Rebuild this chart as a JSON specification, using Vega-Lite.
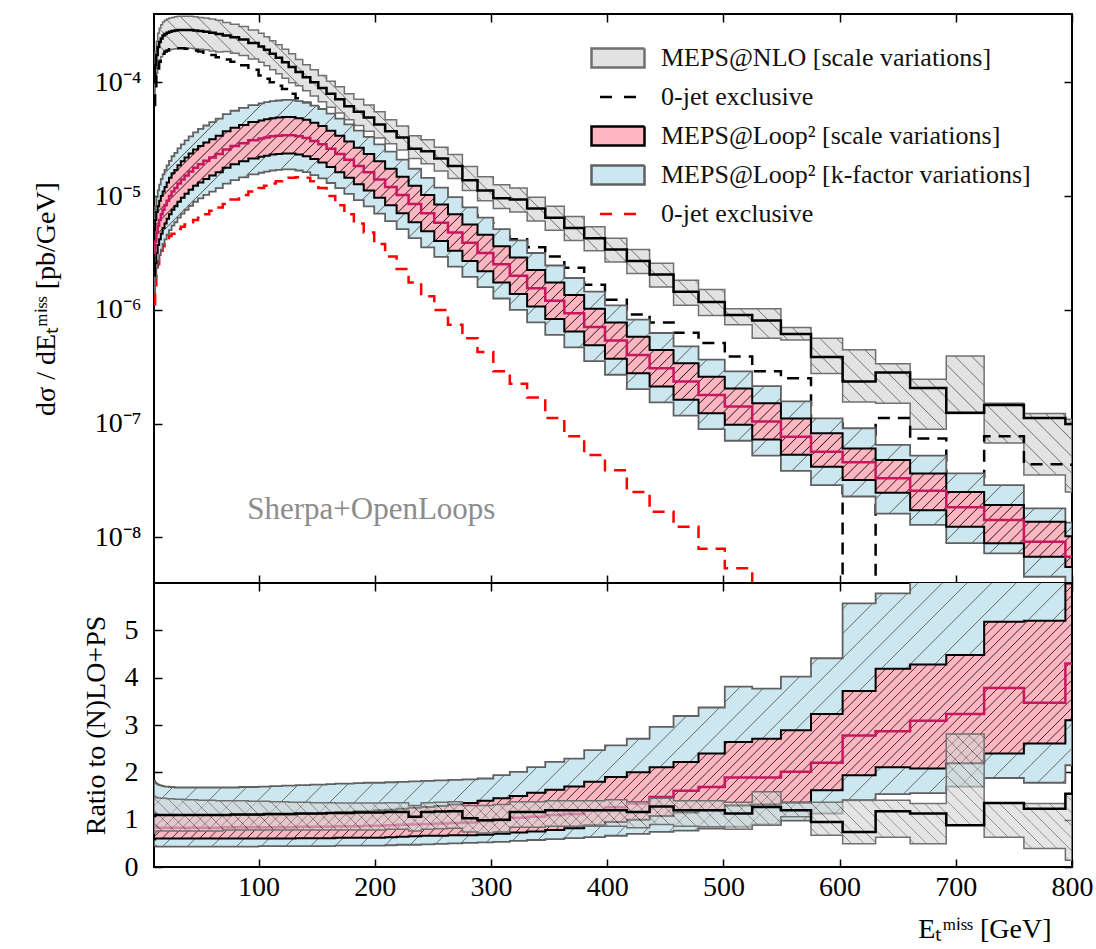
{
  "$schema": "https://vega.github.io/schema/vega-lite/v6.json",
  "background": "white",
  "padding": {"left": 31, "top": 12, "right": 25, "bottom": 6},
  "bounds": "flush",
  "params": [
    {"name": "ps", "value": [
{"offset":0.0072,"color":"#ffb6c1"},{"offset":0.008,"color":"#222"},{"offset":0.0088,"color":"#ffb6c1"},
{"offset":0.0152,"color":"#ffb6c1"},{"offset":0.016,"color":"#222"},{"offset":0.0168,"color":"#ffb6c1"},
{"offset":0.0232,"color":"#ffb6c1"},{"offset":0.024,"color":"#222"},{"offset":0.0248,"color":"#ffb6c1"},
{"offset":0.0312,"color":"#ffb6c1"},{"offset":0.032,"color":"#222"},{"offset":0.0328,"color":"#ffb6c1"},
{"offset":0.0392,"color":"#ffb6c1"},{"offset":0.04,"color":"#222"},{"offset":0.0408,"color":"#ffb6c1"},
{"offset":0.0472,"color":"#ffb6c1"},{"offset":0.048,"color":"#222"},{"offset":0.0488,"color":"#ffb6c1"},
{"offset":0.0552,"color":"#ffb6c1"},{"offset":0.056,"color":"#222"},{"offset":0.0568,"color":"#ffb6c1"},
{"offset":0.0632,"color":"#ffb6c1"},{"offset":0.064,"color":"#222"},{"offset":0.0648,"color":"#ffb6c1"},
{"offset":0.0712,"color":"#ffb6c1"},{"offset":0.072,"color":"#222"},{"offset":0.0728,"color":"#ffb6c1"},
{"offset":0.0792,"color":"#ffb6c1"},{"offset":0.08,"color":"#222"},{"offset":0.0808,"color":"#ffb6c1"},
{"offset":0.0872,"color":"#ffb6c1"},{"offset":0.088,"color":"#222"},{"offset":0.0888,"color":"#ffb6c1"},
{"offset":0.0952,"color":"#ffb6c1"},{"offset":0.096,"color":"#222"},{"offset":0.0968,"color":"#ffb6c1"},
{"offset":0.1032,"color":"#ffb6c1"},{"offset":0.104,"color":"#222"},{"offset":0.1048,"color":"#ffb6c1"},
{"offset":0.1112,"color":"#ffb6c1"},{"offset":0.112,"color":"#222"},{"offset":0.1128,"color":"#ffb6c1"},
{"offset":0.1192,"color":"#ffb6c1"},{"offset":0.12,"color":"#222"},{"offset":0.1208,"color":"#ffb6c1"},
{"offset":0.1272,"color":"#ffb6c1"},{"offset":0.128,"color":"#222"},{"offset":0.1288,"color":"#ffb6c1"},
{"offset":0.1352,"color":"#ffb6c1"},{"offset":0.136,"color":"#222"},{"offset":0.1368,"color":"#ffb6c1"},
{"offset":0.1432,"color":"#ffb6c1"},{"offset":0.144,"color":"#222"},{"offset":0.1448,"color":"#ffb6c1"},
{"offset":0.1512,"color":"#ffb6c1"},{"offset":0.152,"color":"#222"},{"offset":0.1528,"color":"#ffb6c1"},
{"offset":0.1592,"color":"#ffb6c1"},{"offset":0.16,"color":"#222"},{"offset":0.1608,"color":"#ffb6c1"},
{"offset":0.1672,"color":"#ffb6c1"},{"offset":0.168,"color":"#222"},{"offset":0.1688,"color":"#ffb6c1"},
{"offset":0.1752,"color":"#ffb6c1"},{"offset":0.176,"color":"#222"},{"offset":0.1768,"color":"#ffb6c1"},
{"offset":0.1832,"color":"#ffb6c1"},{"offset":0.184,"color":"#222"},{"offset":0.1848,"color":"#ffb6c1"},
{"offset":0.1912,"color":"#ffb6c1"},{"offset":0.192,"color":"#222"},{"offset":0.1928,"color":"#ffb6c1"},
{"offset":0.1992,"color":"#ffb6c1"},{"offset":0.2,"color":"#222"},{"offset":0.2008,"color":"#ffb6c1"},
{"offset":0.2072,"color":"#ffb6c1"},{"offset":0.208,"color":"#222"},{"offset":0.2088,"color":"#ffb6c1"},
{"offset":0.2152,"color":"#ffb6c1"},{"offset":0.216,"color":"#222"},{"offset":0.2168,"color":"#ffb6c1"},
{"offset":0.2232,"color":"#ffb6c1"},{"offset":0.224,"color":"#222"},{"offset":0.2248,"color":"#ffb6c1"},
{"offset":0.2312,"color":"#ffb6c1"},{"offset":0.232,"color":"#222"},{"offset":0.2328,"color":"#ffb6c1"},
{"offset":0.2392,"color":"#ffb6c1"},{"offset":0.24,"color":"#222"},{"offset":0.2408,"color":"#ffb6c1"},
{"offset":0.2472,"color":"#ffb6c1"},{"offset":0.248,"color":"#222"},{"offset":0.2488,"color":"#ffb6c1"},
{"offset":0.2552,"color":"#ffb6c1"},{"offset":0.256,"color":"#222"},{"offset":0.2568,"color":"#ffb6c1"},
{"offset":0.2632,"color":"#ffb6c1"},{"offset":0.264,"color":"#222"},{"offset":0.2648,"color":"#ffb6c1"},
{"offset":0.2712,"color":"#ffb6c1"},{"offset":0.272,"color":"#222"},{"offset":0.2728,"color":"#ffb6c1"},
{"offset":0.2792,"color":"#ffb6c1"},{"offset":0.28,"color":"#222"},{"offset":0.2808,"color":"#ffb6c1"},
{"offset":0.2872,"color":"#ffb6c1"},{"offset":0.288,"color":"#222"},{"offset":0.2888,"color":"#ffb6c1"},
{"offset":0.2952,"color":"#ffb6c1"},{"offset":0.296,"color":"#222"},{"offset":0.2968,"color":"#ffb6c1"},
{"offset":0.3032,"color":"#ffb6c1"},{"offset":0.304,"color":"#222"},{"offset":0.3048,"color":"#ffb6c1"},
{"offset":0.3112,"color":"#ffb6c1"},{"offset":0.312,"color":"#222"},{"offset":0.3128,"color":"#ffb6c1"},
{"offset":0.3192,"color":"#ffb6c1"},{"offset":0.32,"color":"#222"},{"offset":0.3208,"color":"#ffb6c1"},
{"offset":0.3272,"color":"#ffb6c1"},{"offset":0.328,"color":"#222"},{"offset":0.3288,"color":"#ffb6c1"},
{"offset":0.3352,"color":"#ffb6c1"},{"offset":0.336,"color":"#222"},{"offset":0.3368,"color":"#ffb6c1"},
{"offset":0.3432,"color":"#ffb6c1"},{"offset":0.344,"color":"#222"},{"offset":0.3448,"color":"#ffb6c1"},
{"offset":0.3512,"color":"#ffb6c1"},{"offset":0.352,"color":"#222"},{"offset":0.3528,"color":"#ffb6c1"},
{"offset":0.3592,"color":"#ffb6c1"},{"offset":0.36,"color":"#222"},{"offset":0.3608,"color":"#ffb6c1"},
{"offset":0.3672,"color":"#ffb6c1"},{"offset":0.368,"color":"#222"},{"offset":0.3688,"color":"#ffb6c1"},
{"offset":0.3752,"color":"#ffb6c1"},{"offset":0.376,"color":"#222"},{"offset":0.3768,"color":"#ffb6c1"},
{"offset":0.3832,"color":"#ffb6c1"},{"offset":0.384,"color":"#222"},{"offset":0.3848,"color":"#ffb6c1"},
{"offset":0.3912,"color":"#ffb6c1"},{"offset":0.392,"color":"#222"},{"offset":0.3928,"color":"#ffb6c1"},
{"offset":0.3992,"color":"#ffb6c1"},{"offset":0.4,"color":"#222"},{"offset":0.4008,"color":"#ffb6c1"},
{"offset":0.4072,"color":"#ffb6c1"},{"offset":0.408,"color":"#222"},{"offset":0.4088,"color":"#ffb6c1"},
{"offset":0.4152,"color":"#ffb6c1"},{"offset":0.416,"color":"#222"},{"offset":0.4168,"color":"#ffb6c1"},
{"offset":0.4232,"color":"#ffb6c1"},{"offset":0.424,"color":"#222"},{"offset":0.4248,"color":"#ffb6c1"},
{"offset":0.4312,"color":"#ffb6c1"},{"offset":0.432,"color":"#222"},{"offset":0.4328,"color":"#ffb6c1"},
{"offset":0.4392,"color":"#ffb6c1"},{"offset":0.44,"color":"#222"},{"offset":0.4408,"color":"#ffb6c1"},
{"offset":0.4472,"color":"#ffb6c1"},{"offset":0.448,"color":"#222"},{"offset":0.4488,"color":"#ffb6c1"},
{"offset":0.4552,"color":"#ffb6c1"},{"offset":0.456,"color":"#222"},{"offset":0.4568,"color":"#ffb6c1"},
{"offset":0.4632,"color":"#ffb6c1"},{"offset":0.464,"color":"#222"},{"offset":0.4648,"color":"#ffb6c1"},
{"offset":0.4712,"color":"#ffb6c1"},{"offset":0.472,"color":"#222"},{"offset":0.4728,"color":"#ffb6c1"},
{"offset":0.4792,"color":"#ffb6c1"},{"offset":0.48,"color":"#222"},{"offset":0.4808,"color":"#ffb6c1"},
{"offset":0.4872,"color":"#ffb6c1"},{"offset":0.488,"color":"#222"},{"offset":0.4888,"color":"#ffb6c1"},
{"offset":0.4952,"color":"#ffb6c1"},{"offset":0.496,"color":"#222"},{"offset":0.4968,"color":"#ffb6c1"},
{"offset":0.5032,"color":"#ffb6c1"},{"offset":0.504,"color":"#222"},{"offset":0.5048,"color":"#ffb6c1"},
{"offset":0.5112,"color":"#ffb6c1"},{"offset":0.512,"color":"#222"},{"offset":0.5128,"color":"#ffb6c1"},
{"offset":0.5192,"color":"#ffb6c1"},{"offset":0.52,"color":"#222"},{"offset":0.5208,"color":"#ffb6c1"},
{"offset":0.5272,"color":"#ffb6c1"},{"offset":0.528,"color":"#222"},{"offset":0.5288,"color":"#ffb6c1"},
{"offset":0.5352,"color":"#ffb6c1"},{"offset":0.536,"color":"#222"},{"offset":0.5368,"color":"#ffb6c1"},
{"offset":0.5432,"color":"#ffb6c1"},{"offset":0.544,"color":"#222"},{"offset":0.5448,"color":"#ffb6c1"},
{"offset":0.5512,"color":"#ffb6c1"},{"offset":0.552,"color":"#222"},{"offset":0.5528,"color":"#ffb6c1"},
{"offset":0.5592,"color":"#ffb6c1"},{"offset":0.56,"color":"#222"},{"offset":0.5608,"color":"#ffb6c1"},
{"offset":0.5672,"color":"#ffb6c1"},{"offset":0.568,"color":"#222"},{"offset":0.5688,"color":"#ffb6c1"},
{"offset":0.5752,"color":"#ffb6c1"},{"offset":0.576,"color":"#222"},{"offset":0.5768,"color":"#ffb6c1"},
{"offset":0.5832,"color":"#ffb6c1"},{"offset":0.584,"color":"#222"},{"offset":0.5848,"color":"#ffb6c1"},
{"offset":0.5912,"color":"#ffb6c1"},{"offset":0.592,"color":"#222"},{"offset":0.5928,"color":"#ffb6c1"},
{"offset":0.5992,"color":"#ffb6c1"},{"offset":0.6,"color":"#222"},{"offset":0.6008,"color":"#ffb6c1"},
{"offset":0.6072,"color":"#ffb6c1"},{"offset":0.608,"color":"#222"},{"offset":0.6088,"color":"#ffb6c1"},
{"offset":0.6152,"color":"#ffb6c1"},{"offset":0.616,"color":"#222"},{"offset":0.6168,"color":"#ffb6c1"},
{"offset":0.6232,"color":"#ffb6c1"},{"offset":0.624,"color":"#222"},{"offset":0.6248,"color":"#ffb6c1"},
{"offset":0.6312,"color":"#ffb6c1"},{"offset":0.632,"color":"#222"},{"offset":0.6328,"color":"#ffb6c1"},
{"offset":0.6392,"color":"#ffb6c1"},{"offset":0.64,"color":"#222"},{"offset":0.6408,"color":"#ffb6c1"},
{"offset":0.6472,"color":"#ffb6c1"},{"offset":0.648,"color":"#222"},{"offset":0.6488,"color":"#ffb6c1"},
{"offset":0.6552,"color":"#ffb6c1"},{"offset":0.656,"color":"#222"},{"offset":0.6568,"color":"#ffb6c1"},
{"offset":0.6632,"color":"#ffb6c1"},{"offset":0.664,"color":"#222"},{"offset":0.6648,"color":"#ffb6c1"},
{"offset":0.6712,"color":"#ffb6c1"},{"offset":0.672,"color":"#222"},{"offset":0.6728,"color":"#ffb6c1"},
{"offset":0.6792,"color":"#ffb6c1"},{"offset":0.68,"color":"#222"},{"offset":0.6808,"color":"#ffb6c1"},
{"offset":0.6872,"color":"#ffb6c1"},{"offset":0.688,"color":"#222"},{"offset":0.6888,"color":"#ffb6c1"},
{"offset":0.6952,"color":"#ffb6c1"},{"offset":0.696,"color":"#222"},{"offset":0.6968,"color":"#ffb6c1"},
{"offset":0.7032,"color":"#ffb6c1"},{"offset":0.704,"color":"#222"},{"offset":0.7048,"color":"#ffb6c1"},
{"offset":0.7112,"color":"#ffb6c1"},{"offset":0.712,"color":"#222"},{"offset":0.7128,"color":"#ffb6c1"},
{"offset":0.7192,"color":"#ffb6c1"},{"offset":0.72,"color":"#222"},{"offset":0.7208,"color":"#ffb6c1"},
{"offset":0.7272,"color":"#ffb6c1"},{"offset":0.728,"color":"#222"},{"offset":0.7288,"color":"#ffb6c1"},
{"offset":0.7352,"color":"#ffb6c1"},{"offset":0.736,"color":"#222"},{"offset":0.7368,"color":"#ffb6c1"},
{"offset":0.7432,"color":"#ffb6c1"},{"offset":0.744,"color":"#222"},{"offset":0.7448,"color":"#ffb6c1"},
{"offset":0.7512,"color":"#ffb6c1"},{"offset":0.752,"color":"#222"},{"offset":0.7528,"color":"#ffb6c1"},
{"offset":0.7592,"color":"#ffb6c1"},{"offset":0.76,"color":"#222"},{"offset":0.7608,"color":"#ffb6c1"},
{"offset":0.7672,"color":"#ffb6c1"},{"offset":0.768,"color":"#222"},{"offset":0.7688,"color":"#ffb6c1"},
{"offset":0.7752,"color":"#ffb6c1"},{"offset":0.776,"color":"#222"},{"offset":0.7768,"color":"#ffb6c1"},
{"offset":0.7832,"color":"#ffb6c1"},{"offset":0.784,"color":"#222"},{"offset":0.7848,"color":"#ffb6c1"},
{"offset":0.7912,"color":"#ffb6c1"},{"offset":0.792,"color":"#222"},{"offset":0.7928,"color":"#ffb6c1"},
{"offset":0.7992,"color":"#ffb6c1"},{"offset":0.8,"color":"#222"},{"offset":0.8008,"color":"#ffb6c1"},
{"offset":0.8072,"color":"#ffb6c1"},{"offset":0.808,"color":"#222"},{"offset":0.8088,"color":"#ffb6c1"},
{"offset":0.8152,"color":"#ffb6c1"},{"offset":0.816,"color":"#222"},{"offset":0.8168,"color":"#ffb6c1"},
{"offset":0.8232,"color":"#ffb6c1"},{"offset":0.824,"color":"#222"},{"offset":0.8248,"color":"#ffb6c1"},
{"offset":0.8312,"color":"#ffb6c1"},{"offset":0.832,"color":"#222"},{"offset":0.8328,"color":"#ffb6c1"},
{"offset":0.8392,"color":"#ffb6c1"},{"offset":0.84,"color":"#222"},{"offset":0.8408,"color":"#ffb6c1"},
{"offset":0.8472,"color":"#ffb6c1"},{"offset":0.848,"color":"#222"},{"offset":0.8488,"color":"#ffb6c1"},
{"offset":0.8552,"color":"#ffb6c1"},{"offset":0.856,"color":"#222"},{"offset":0.8568,"color":"#ffb6c1"},
{"offset":0.8632,"color":"#ffb6c1"},{"offset":0.864,"color":"#222"},{"offset":0.8648,"color":"#ffb6c1"},
{"offset":0.8712,"color":"#ffb6c1"},{"offset":0.872,"color":"#222"},{"offset":0.8728,"color":"#ffb6c1"},
{"offset":0.8792,"color":"#ffb6c1"},{"offset":0.88,"color":"#222"},{"offset":0.8808,"color":"#ffb6c1"},
{"offset":0.8872,"color":"#ffb6c1"},{"offset":0.888,"color":"#222"},{"offset":0.8888,"color":"#ffb6c1"},
{"offset":0.8952,"color":"#ffb6c1"},{"offset":0.896,"color":"#222"},{"offset":0.8968,"color":"#ffb6c1"},
{"offset":0.9032,"color":"#ffb6c1"},{"offset":0.904,"color":"#222"},{"offset":0.9048,"color":"#ffb6c1"},
{"offset":0.9112,"color":"#ffb6c1"},{"offset":0.912,"color":"#222"},{"offset":0.9128,"color":"#ffb6c1"},
{"offset":0.9192,"color":"#ffb6c1"},{"offset":0.92,"color":"#222"},{"offset":0.9208,"color":"#ffb6c1"},
{"offset":0.9272,"color":"#ffb6c1"},{"offset":0.928,"color":"#222"},{"offset":0.9288,"color":"#ffb6c1"},
{"offset":0.9352,"color":"#ffb6c1"},{"offset":0.936,"color":"#222"},{"offset":0.9368,"color":"#ffb6c1"},
{"offset":0.9432,"color":"#ffb6c1"},{"offset":0.944,"color":"#222"},{"offset":0.9448,"color":"#ffb6c1"},
{"offset":0.9512,"color":"#ffb6c1"},{"offset":0.952,"color":"#222"},{"offset":0.9528,"color":"#ffb6c1"},
{"offset":0.9592,"color":"#ffb6c1"},{"offset":0.96,"color":"#222"},{"offset":0.9608,"color":"#ffb6c1"},
{"offset":0.9672,"color":"#ffb6c1"},{"offset":0.968,"color":"#222"},{"offset":0.9688,"color":"#ffb6c1"},
{"offset":0.9752,"color":"#ffb6c1"},{"offset":0.976,"color":"#222"},{"offset":0.9768,"color":"#ffb6c1"},
{"offset":0.9832,"color":"#ffb6c1"},{"offset":0.984,"color":"#222"},{"offset":0.9848,"color":"#ffb6c1"},
{"offset":0.9912,"color":"#ffb6c1"},{"offset":0.992,"color":"#222"},{"offset":0.9928,"color":"#ffb6c1"}
    ]},
    {"name": "bs", "value": [
{"offset":0.0192,"color":"#cde7f0"},{"offset":0.02,"color":"#666"},{"offset":0.0208,"color":"#cde7f0"},
{"offset":0.0392,"color":"#cde7f0"},{"offset":0.04,"color":"#666"},{"offset":0.0408,"color":"#cde7f0"},
{"offset":0.0592,"color":"#cde7f0"},{"offset":0.06,"color":"#666"},{"offset":0.0608,"color":"#cde7f0"},
{"offset":0.0792,"color":"#cde7f0"},{"offset":0.08,"color":"#666"},{"offset":0.0808,"color":"#cde7f0"},
{"offset":0.0992,"color":"#cde7f0"},{"offset":0.1,"color":"#666"},{"offset":0.1008,"color":"#cde7f0"},
{"offset":0.1192,"color":"#cde7f0"},{"offset":0.12,"color":"#666"},{"offset":0.1208,"color":"#cde7f0"},
{"offset":0.1392,"color":"#cde7f0"},{"offset":0.14,"color":"#666"},{"offset":0.1408,"color":"#cde7f0"},
{"offset":0.1592,"color":"#cde7f0"},{"offset":0.16,"color":"#666"},{"offset":0.1608,"color":"#cde7f0"},
{"offset":0.1792,"color":"#cde7f0"},{"offset":0.18,"color":"#666"},{"offset":0.1808,"color":"#cde7f0"},
{"offset":0.1992,"color":"#cde7f0"},{"offset":0.2,"color":"#666"},{"offset":0.2008,"color":"#cde7f0"},
{"offset":0.2192,"color":"#cde7f0"},{"offset":0.22,"color":"#666"},{"offset":0.2208,"color":"#cde7f0"},
{"offset":0.2392,"color":"#cde7f0"},{"offset":0.24,"color":"#666"},{"offset":0.2408,"color":"#cde7f0"},
{"offset":0.2592,"color":"#cde7f0"},{"offset":0.26,"color":"#666"},{"offset":0.2608,"color":"#cde7f0"},
{"offset":0.2792,"color":"#cde7f0"},{"offset":0.28,"color":"#666"},{"offset":0.2808,"color":"#cde7f0"},
{"offset":0.2992,"color":"#cde7f0"},{"offset":0.3,"color":"#666"},{"offset":0.3008,"color":"#cde7f0"},
{"offset":0.3192,"color":"#cde7f0"},{"offset":0.32,"color":"#666"},{"offset":0.3208,"color":"#cde7f0"},
{"offset":0.3392,"color":"#cde7f0"},{"offset":0.34,"color":"#666"},{"offset":0.3408,"color":"#cde7f0"},
{"offset":0.3592,"color":"#cde7f0"},{"offset":0.36,"color":"#666"},{"offset":0.3608,"color":"#cde7f0"},
{"offset":0.3792,"color":"#cde7f0"},{"offset":0.38,"color":"#666"},{"offset":0.3808,"color":"#cde7f0"},
{"offset":0.3992,"color":"#cde7f0"},{"offset":0.4,"color":"#666"},{"offset":0.4008,"color":"#cde7f0"},
{"offset":0.4192,"color":"#cde7f0"},{"offset":0.42,"color":"#666"},{"offset":0.4208,"color":"#cde7f0"},
{"offset":0.4392,"color":"#cde7f0"},{"offset":0.44,"color":"#666"},{"offset":0.4408,"color":"#cde7f0"},
{"offset":0.4592,"color":"#cde7f0"},{"offset":0.46,"color":"#666"},{"offset":0.4608,"color":"#cde7f0"},
{"offset":0.4792,"color":"#cde7f0"},{"offset":0.48,"color":"#666"},{"offset":0.4808,"color":"#cde7f0"},
{"offset":0.4992,"color":"#cde7f0"},{"offset":0.5,"color":"#666"},{"offset":0.5008,"color":"#cde7f0"},
{"offset":0.5192,"color":"#cde7f0"},{"offset":0.52,"color":"#666"},{"offset":0.5208,"color":"#cde7f0"},
{"offset":0.5392,"color":"#cde7f0"},{"offset":0.54,"color":"#666"},{"offset":0.5408,"color":"#cde7f0"},
{"offset":0.5592,"color":"#cde7f0"},{"offset":0.56,"color":"#666"},{"offset":0.5608,"color":"#cde7f0"},
{"offset":0.5792,"color":"#cde7f0"},{"offset":0.58,"color":"#666"},{"offset":0.5808,"color":"#cde7f0"},
{"offset":0.5992,"color":"#cde7f0"},{"offset":0.6,"color":"#666"},{"offset":0.6008,"color":"#cde7f0"},
{"offset":0.6192,"color":"#cde7f0"},{"offset":0.62,"color":"#666"},{"offset":0.6208,"color":"#cde7f0"},
{"offset":0.6392,"color":"#cde7f0"},{"offset":0.64,"color":"#666"},{"offset":0.6408,"color":"#cde7f0"},
{"offset":0.6592,"color":"#cde7f0"},{"offset":0.66,"color":"#666"},{"offset":0.6608,"color":"#cde7f0"},
{"offset":0.6792,"color":"#cde7f0"},{"offset":0.68,"color":"#666"},{"offset":0.6808,"color":"#cde7f0"},
{"offset":0.6992,"color":"#cde7f0"},{"offset":0.7,"color":"#666"},{"offset":0.7008,"color":"#cde7f0"},
{"offset":0.7192,"color":"#cde7f0"},{"offset":0.72,"color":"#666"},{"offset":0.7208,"color":"#cde7f0"},
{"offset":0.7392,"color":"#cde7f0"},{"offset":0.74,"color":"#666"},{"offset":0.7408,"color":"#cde7f0"},
{"offset":0.7592,"color":"#cde7f0"},{"offset":0.76,"color":"#666"},{"offset":0.7608,"color":"#cde7f0"},
{"offset":0.7792,"color":"#cde7f0"},{"offset":0.78,"color":"#666"},{"offset":0.7808,"color":"#cde7f0"},
{"offset":0.7992,"color":"#cde7f0"},{"offset":0.8,"color":"#666"},{"offset":0.8008,"color":"#cde7f0"},
{"offset":0.8192,"color":"#cde7f0"},{"offset":0.82,"color":"#666"},{"offset":0.8208,"color":"#cde7f0"},
{"offset":0.8392,"color":"#cde7f0"},{"offset":0.84,"color":"#666"},{"offset":0.8408,"color":"#cde7f0"},
{"offset":0.8592,"color":"#cde7f0"},{"offset":0.86,"color":"#666"},{"offset":0.8608,"color":"#cde7f0"},
{"offset":0.8792,"color":"#cde7f0"},{"offset":0.88,"color":"#666"},{"offset":0.8808,"color":"#cde7f0"},
{"offset":0.8992,"color":"#cde7f0"},{"offset":0.9,"color":"#666"},{"offset":0.9008,"color":"#cde7f0"},
{"offset":0.9192,"color":"#cde7f0"},{"offset":0.92,"color":"#666"},{"offset":0.9208,"color":"#cde7f0"},
{"offset":0.9392,"color":"#cde7f0"},{"offset":0.94,"color":"#666"},{"offset":0.9408,"color":"#cde7f0"},
{"offset":0.9592,"color":"#cde7f0"},{"offset":0.96,"color":"#666"},{"offset":0.9608,"color":"#cde7f0"},
{"offset":0.9792,"color":"#cde7f0"},{"offset":0.98,"color":"#666"},{"offset":0.9808,"color":"#cde7f0"}
    ]},
    {"name": "gs", "value": [
{"offset":0.0112,"color":"#d3d3d3"},{"offset":0.012,"color":"#333"},{"offset":0.0128,"color":"#d3d3d3"},
{"offset":0.0232,"color":"#d3d3d3"},{"offset":0.024,"color":"#333"},{"offset":0.0248,"color":"#d3d3d3"},
{"offset":0.0352,"color":"#d3d3d3"},{"offset":0.036,"color":"#333"},{"offset":0.0368,"color":"#d3d3d3"},
{"offset":0.0472,"color":"#d3d3d3"},{"offset":0.048,"color":"#333"},{"offset":0.0488,"color":"#d3d3d3"},
{"offset":0.0592,"color":"#d3d3d3"},{"offset":0.06,"color":"#333"},{"offset":0.0608,"color":"#d3d3d3"},
{"offset":0.0712,"color":"#d3d3d3"},{"offset":0.072,"color":"#333"},{"offset":0.0728,"color":"#d3d3d3"},
{"offset":0.0832,"color":"#d3d3d3"},{"offset":0.084,"color":"#333"},{"offset":0.0848,"color":"#d3d3d3"},
{"offset":0.0952,"color":"#d3d3d3"},{"offset":0.096,"color":"#333"},{"offset":0.0968,"color":"#d3d3d3"},
{"offset":0.1072,"color":"#d3d3d3"},{"offset":0.108,"color":"#333"},{"offset":0.1088,"color":"#d3d3d3"},
{"offset":0.1192,"color":"#d3d3d3"},{"offset":0.12,"color":"#333"},{"offset":0.1208,"color":"#d3d3d3"},
{"offset":0.1312,"color":"#d3d3d3"},{"offset":0.132,"color":"#333"},{"offset":0.1328,"color":"#d3d3d3"},
{"offset":0.1432,"color":"#d3d3d3"},{"offset":0.144,"color":"#333"},{"offset":0.1448,"color":"#d3d3d3"},
{"offset":0.1552,"color":"#d3d3d3"},{"offset":0.156,"color":"#333"},{"offset":0.1568,"color":"#d3d3d3"},
{"offset":0.1672,"color":"#d3d3d3"},{"offset":0.168,"color":"#333"},{"offset":0.1688,"color":"#d3d3d3"},
{"offset":0.1792,"color":"#d3d3d3"},{"offset":0.18,"color":"#333"},{"offset":0.1808,"color":"#d3d3d3"},
{"offset":0.1912,"color":"#d3d3d3"},{"offset":0.192,"color":"#333"},{"offset":0.1928,"color":"#d3d3d3"},
{"offset":0.2032,"color":"#d3d3d3"},{"offset":0.204,"color":"#333"},{"offset":0.2048,"color":"#d3d3d3"},
{"offset":0.2152,"color":"#d3d3d3"},{"offset":0.216,"color":"#333"},{"offset":0.2168,"color":"#d3d3d3"},
{"offset":0.2272,"color":"#d3d3d3"},{"offset":0.228,"color":"#333"},{"offset":0.2288,"color":"#d3d3d3"},
{"offset":0.2392,"color":"#d3d3d3"},{"offset":0.24,"color":"#333"},{"offset":0.2408,"color":"#d3d3d3"},
{"offset":0.2512,"color":"#d3d3d3"},{"offset":0.252,"color":"#333"},{"offset":0.2528,"color":"#d3d3d3"},
{"offset":0.2632,"color":"#d3d3d3"},{"offset":0.264,"color":"#333"},{"offset":0.2648,"color":"#d3d3d3"},
{"offset":0.2752,"color":"#d3d3d3"},{"offset":0.276,"color":"#333"},{"offset":0.2768,"color":"#d3d3d3"},
{"offset":0.2872,"color":"#d3d3d3"},{"offset":0.288,"color":"#333"},{"offset":0.2888,"color":"#d3d3d3"},
{"offset":0.2992,"color":"#d3d3d3"},{"offset":0.3,"color":"#333"},{"offset":0.3008,"color":"#d3d3d3"},
{"offset":0.3112,"color":"#d3d3d3"},{"offset":0.312,"color":"#333"},{"offset":0.3128,"color":"#d3d3d3"},
{"offset":0.3232,"color":"#d3d3d3"},{"offset":0.324,"color":"#333"},{"offset":0.3248,"color":"#d3d3d3"},
{"offset":0.3352,"color":"#d3d3d3"},{"offset":0.336,"color":"#333"},{"offset":0.3368,"color":"#d3d3d3"},
{"offset":0.3472,"color":"#d3d3d3"},{"offset":0.348,"color":"#333"},{"offset":0.3488,"color":"#d3d3d3"},
{"offset":0.3592,"color":"#d3d3d3"},{"offset":0.36,"color":"#333"},{"offset":0.3608,"color":"#d3d3d3"},
{"offset":0.3712,"color":"#d3d3d3"},{"offset":0.372,"color":"#333"},{"offset":0.3728,"color":"#d3d3d3"},
{"offset":0.3832,"color":"#d3d3d3"},{"offset":0.384,"color":"#333"},{"offset":0.3848,"color":"#d3d3d3"},
{"offset":0.3952,"color":"#d3d3d3"},{"offset":0.396,"color":"#333"},{"offset":0.3968,"color":"#d3d3d3"},
{"offset":0.4072,"color":"#d3d3d3"},{"offset":0.408,"color":"#333"},{"offset":0.4088,"color":"#d3d3d3"},
{"offset":0.4192,"color":"#d3d3d3"},{"offset":0.42,"color":"#333"},{"offset":0.4208,"color":"#d3d3d3"},
{"offset":0.4312,"color":"#d3d3d3"},{"offset":0.432,"color":"#333"},{"offset":0.4328,"color":"#d3d3d3"},
{"offset":0.4432,"color":"#d3d3d3"},{"offset":0.444,"color":"#333"},{"offset":0.4448,"color":"#d3d3d3"},
{"offset":0.4552,"color":"#d3d3d3"},{"offset":0.456,"color":"#333"},{"offset":0.4568,"color":"#d3d3d3"},
{"offset":0.4672,"color":"#d3d3d3"},{"offset":0.468,"color":"#333"},{"offset":0.4688,"color":"#d3d3d3"},
{"offset":0.4792,"color":"#d3d3d3"},{"offset":0.48,"color":"#333"},{"offset":0.4808,"color":"#d3d3d3"},
{"offset":0.4912,"color":"#d3d3d3"},{"offset":0.492,"color":"#333"},{"offset":0.4928,"color":"#d3d3d3"},
{"offset":0.5032,"color":"#d3d3d3"},{"offset":0.504,"color":"#333"},{"offset":0.5048,"color":"#d3d3d3"},
{"offset":0.5152,"color":"#d3d3d3"},{"offset":0.516,"color":"#333"},{"offset":0.5168,"color":"#d3d3d3"},
{"offset":0.5272,"color":"#d3d3d3"},{"offset":0.528,"color":"#333"},{"offset":0.5288,"color":"#d3d3d3"},
{"offset":0.5392,"color":"#d3d3d3"},{"offset":0.54,"color":"#333"},{"offset":0.5408,"color":"#d3d3d3"},
{"offset":0.5512,"color":"#d3d3d3"},{"offset":0.552,"color":"#333"},{"offset":0.5528,"color":"#d3d3d3"},
{"offset":0.5632,"color":"#d3d3d3"},{"offset":0.564,"color":"#333"},{"offset":0.5648,"color":"#d3d3d3"},
{"offset":0.5752,"color":"#d3d3d3"},{"offset":0.576,"color":"#333"},{"offset":0.5768,"color":"#d3d3d3"},
{"offset":0.5872,"color":"#d3d3d3"},{"offset":0.588,"color":"#333"},{"offset":0.5888,"color":"#d3d3d3"},
{"offset":0.5992,"color":"#d3d3d3"},{"offset":0.6,"color":"#333"},{"offset":0.6008,"color":"#d3d3d3"},
{"offset":0.6112,"color":"#d3d3d3"},{"offset":0.612,"color":"#333"},{"offset":0.6128,"color":"#d3d3d3"},
{"offset":0.6232,"color":"#d3d3d3"},{"offset":0.624,"color":"#333"},{"offset":0.6248,"color":"#d3d3d3"},
{"offset":0.6352,"color":"#d3d3d3"},{"offset":0.636,"color":"#333"},{"offset":0.6368,"color":"#d3d3d3"},
{"offset":0.6472,"color":"#d3d3d3"},{"offset":0.648,"color":"#333"},{"offset":0.6488,"color":"#d3d3d3"},
{"offset":0.6592,"color":"#d3d3d3"},{"offset":0.66,"color":"#333"},{"offset":0.6608,"color":"#d3d3d3"},
{"offset":0.6712,"color":"#d3d3d3"},{"offset":0.672,"color":"#333"},{"offset":0.6728,"color":"#d3d3d3"},
{"offset":0.6832,"color":"#d3d3d3"},{"offset":0.684,"color":"#333"},{"offset":0.6848,"color":"#d3d3d3"},
{"offset":0.6952,"color":"#d3d3d3"},{"offset":0.696,"color":"#333"},{"offset":0.6968,"color":"#d3d3d3"},
{"offset":0.7072,"color":"#d3d3d3"},{"offset":0.708,"color":"#333"},{"offset":0.7088,"color":"#d3d3d3"},
{"offset":0.7192,"color":"#d3d3d3"},{"offset":0.72,"color":"#333"},{"offset":0.7208,"color":"#d3d3d3"},
{"offset":0.7312,"color":"#d3d3d3"},{"offset":0.732,"color":"#333"},{"offset":0.7328,"color":"#d3d3d3"},
{"offset":0.7432,"color":"#d3d3d3"},{"offset":0.744,"color":"#333"},{"offset":0.7448,"color":"#d3d3d3"},
{"offset":0.7552,"color":"#d3d3d3"},{"offset":0.756,"color":"#333"},{"offset":0.7568,"color":"#d3d3d3"},
{"offset":0.7672,"color":"#d3d3d3"},{"offset":0.768,"color":"#333"},{"offset":0.7688,"color":"#d3d3d3"},
{"offset":0.7792,"color":"#d3d3d3"},{"offset":0.78,"color":"#333"},{"offset":0.7808,"color":"#d3d3d3"},
{"offset":0.7912,"color":"#d3d3d3"},{"offset":0.792,"color":"#333"},{"offset":0.7928,"color":"#d3d3d3"},
{"offset":0.8032,"color":"#d3d3d3"},{"offset":0.804,"color":"#333"},{"offset":0.8048,"color":"#d3d3d3"},
{"offset":0.8152,"color":"#d3d3d3"},{"offset":0.816,"color":"#333"},{"offset":0.8168,"color":"#d3d3d3"},
{"offset":0.8272,"color":"#d3d3d3"},{"offset":0.828,"color":"#333"},{"offset":0.8288,"color":"#d3d3d3"},
{"offset":0.8392,"color":"#d3d3d3"},{"offset":0.84,"color":"#333"},{"offset":0.8408,"color":"#d3d3d3"},
{"offset":0.8512,"color":"#d3d3d3"},{"offset":0.852,"color":"#333"},{"offset":0.8528,"color":"#d3d3d3"},
{"offset":0.8632,"color":"#d3d3d3"},{"offset":0.864,"color":"#333"},{"offset":0.8648,"color":"#d3d3d3"},
{"offset":0.8752,"color":"#d3d3d3"},{"offset":0.876,"color":"#333"},{"offset":0.8768,"color":"#d3d3d3"},
{"offset":0.8872,"color":"#d3d3d3"},{"offset":0.888,"color":"#333"},{"offset":0.8888,"color":"#d3d3d3"},
{"offset":0.8992,"color":"#d3d3d3"},{"offset":0.9,"color":"#333"},{"offset":0.9008,"color":"#d3d3d3"},
{"offset":0.9112,"color":"#d3d3d3"},{"offset":0.912,"color":"#333"},{"offset":0.9128,"color":"#d3d3d3"},
{"offset":0.9232,"color":"#d3d3d3"},{"offset":0.924,"color":"#333"},{"offset":0.9248,"color":"#d3d3d3"},
{"offset":0.9352,"color":"#d3d3d3"},{"offset":0.936,"color":"#333"},{"offset":0.9368,"color":"#d3d3d3"},
{"offset":0.9472,"color":"#d3d3d3"},{"offset":0.948,"color":"#333"},{"offset":0.9488,"color":"#d3d3d3"},
{"offset":0.9592,"color":"#d3d3d3"},{"offset":0.96,"color":"#333"},{"offset":0.9608,"color":"#d3d3d3"},
{"offset":0.9712,"color":"#d3d3d3"},{"offset":0.972,"color":"#333"},{"offset":0.9728,"color":"#d3d3d3"},
{"offset":0.9832,"color":"#d3d3d3"},{"offset":0.984,"color":"#333"},{"offset":0.9848,"color":"#d3d3d3"},
{"offset":0.9952,"color":"#d3d3d3"},{"offset":0.996,"color":"#333"},{"offset":0.9968,"color":"#d3d3d3"}
    ]}
  ],
  "datasets": {
    "h": [
      {"x":10,"n":-4.0,"nh":-3.88,"nl":-4.16,"n0":-4.2,"c":-5.5,"ch":-5.3,"cl":-5.7,"kh":-5.19,"kl":-5.85,"c0":-5.95,"rn":1.08,"rnh":1.5,"rnl":0.72,"rc":0.86,"rch":1.14,"rcl":0.58,"rkh":1.82,"rkl":0.45},
      {"x":10.96,"n":-3.85,"nh":-3.73,"nl":-4.01,"n0":-4.05,"c":-5.4,"ch":-5.21,"cl":-5.59,"kh":-5.09,"kl":-5.72,"c0":-5.8,"rn":1.1,"rnh":1.48,"rnl":0.74,"rc":0.85,"rch":1.12,"rcl":0.6,"rkh":1.78,"rkl":0.44},
      {"x":12.02,"n":-3.76,"nh":-3.64,"nl":-3.92,"n0":-3.95,"c":-5.32,"ch":-5.14,"cl":-5.5,"kh":-5.01,"kl":-5.63,"c0":-5.68,"rn":1.1,"rnh":1.47,"rnl":0.76,"rc":0.84,"rch":1.1,"rcl":0.6,"rkh":1.76,"rkl":0.43},
      {"x":13.18,"n":-3.69,"nh":-3.57,"nl":-3.85,"n0":-3.88,"c":-5.26,"ch":-5.09,"cl":-5.43,"kh":-4.95,"kl":-5.57,"c0":-5.6,"rn":1.1,"rnh":1.46,"rnl":0.76,"rc":0.83,"rch":1.1,"rcl":0.6,"rkh":1.74,"rkl":0.43},
      {"x":14.45,"n":-3.645,"nh":-3.525,"nl":-3.805,"n0":-3.82,"c":-5.21,"ch":-5.04,"cl":-5.38,"kh":-4.9,"kl":-5.52,"c0":-5.53,"rn":1.1,"rnh":1.46,"rnl":0.76,"rc":0.83,"rch":1.1,"rcl":0.6,"rkh":1.73,"rkl":0.43},
      {"x":15.85,"n":-3.615,"nh":-3.495,"nl":-3.775,"n0":-3.78,"c":-5.16,"ch":-5.0,"cl":-5.33,"kh":-4.85,"kl":-5.47,"c0":-5.48,"rn":1.1,"rnh":1.45,"rnl":0.76,"rc":0.83,"rch":1.1,"rcl":0.6,"rkh":1.72,"rkl":0.43},
      {"x":17.38,"n":-3.59,"nh":-3.47,"nl":-3.75,"n0":-3.75,"c":-5.12,"ch":-4.96,"cl":-5.28,"kh":-4.81,"kl":-5.42,"c0":-5.44,"rn":1.1,"rnh":1.45,"rnl":0.76,"rc":0.83,"rch":1.1,"rcl":0.6,"rkh":1.71,"rkl":0.43},
      {"x":19.05,"n":-3.575,"nh":-3.455,"nl":-3.735,"n0":-3.73,"c":-5.08,"ch":-4.92,"cl":-5.24,"kh":-4.77,"kl":-5.38,"c0":-5.41,"rn":1.1,"rnh":1.45,"rnl":0.76,"rc":0.83,"rch":1.1,"rcl":0.6,"rkh":1.7,"rkl":0.43},
      {"x":20.89,"n":-3.565,"nh":-3.445,"nl":-3.725,"n0":-3.72,"c":-5.04,"ch":-4.88,"cl":-5.2,"kh":-4.73,"kl":-5.34,"c0":-5.38,"rn":1.1,"rnh":1.44,"rnl":0.76,"rc":0.83,"rch":1.1,"rcl":0.6,"rkh":1.7,"rkl":0.43},
      {"x":22.91,"n":-3.555,"nh":-3.435,"nl":-3.715,"n0":-3.71,"c":-5.0,"ch":-4.84,"cl":-5.16,"kh":-4.69,"kl":-5.3,"c0":-5.35,"rn":1.1,"rnh":1.44,"rnl":0.76,"rc":0.83,"rch":1.1,"rcl":0.6,"rkh":1.69,"rkl":0.43},
      {"x":25.12,"n":-3.55,"nh":-3.43,"nl":-3.71,"n0":-3.705,"c":-4.96,"ch":-4.8,"cl":-5.12,"kh":-4.65,"kl":-5.26,"c0":-5.33,"rn":1.1,"rnh":1.44,"rnl":0.76,"rc":0.83,"rch":1.1,"rcl":0.6,"rkh":1.69,"rkl":0.43},
      {"x":27.54,"n":-3.545,"nh":-3.425,"nl":-3.705,"n0":-3.7,"c":-4.93,"ch":-4.77,"cl":-5.09,"kh":-4.62,"kl":-5.23,"c0":-5.31,"rn":1.1,"rnh":1.43,"rnl":0.76,"rc":0.83,"rch":1.1,"rcl":0.6,"rkh":1.68,"rkl":0.43},
      {"x":30.2,"n":-3.54,"nh":-3.42,"nl":-3.7,"n0":-3.7,"c":-4.89,"ch":-4.73,"cl":-5.05,"kh":-4.58,"kl":-5.19,"c0":-5.29,"rn":1.1,"rnh":1.43,"rnl":0.76,"rc":0.83,"rch":1.1,"rcl":0.6,"rkh":1.68,"rkl":0.43},
      {"x":33.11,"n":-3.54,"nh":-3.42,"nl":-3.7,"n0":-3.7,"c":-4.855,"ch":-4.695,"cl":-5.015,"kh":-4.545,"kl":-5.155,"c0":-5.27,"rn":1.1,"rnh":1.43,"rnl":0.76,"rc":0.83,"rch":1.1,"rcl":0.6,"rkh":1.68,"rkl":0.43},
      {"x":36.31,"n":-3.54,"nh":-3.42,"nl":-3.7,"n0":-3.705,"c":-4.82,"ch":-4.66,"cl":-4.98,"kh":-4.51,"kl":-5.12,"c0":-5.25,"rn":1.1,"rnh":1.42,"rnl":0.76,"rc":0.83,"rch":1.1,"rcl":0.6,"rkh":1.68,"rkl":0.43},
      {"x":39.81,"n":-3.54,"nh":-3.42,"nl":-3.7,"n0":-3.71,"c":-4.785,"ch":-4.625,"cl":-4.945,"kh":-4.475,"kl":-5.085,"c0":-5.23,"rn":1.1,"rnh":1.42,"rnl":0.76,"rc":0.83,"rch":1.1,"rcl":0.6,"rkh":1.68,"rkl":0.43},
      {"x":43.65,"n":-3.545,"nh":-3.425,"nl":-3.705,"n0":-3.72,"c":-4.75,"ch":-4.59,"cl":-4.91,"kh":-4.44,"kl":-5.05,"c0":-5.21,"rn":1.1,"rnh":1.42,"rnl":0.76,"rc":0.83,"rch":1.1,"rcl":0.6,"rkh":1.68,"rkl":0.43},
      {"x":47.86,"n":-3.55,"nh":-3.43,"nl":-3.71,"n0":-3.73,"c":-4.72,"ch":-4.56,"cl":-4.88,"kh":-4.41,"kl":-5.02,"c0":-5.19,"rn":1.1,"rnh":1.41,"rnl":0.76,"rc":0.83,"rch":1.1,"rcl":0.6,"rkh":1.68,"rkl":0.43},
      {"x":52.48,"n":-3.555,"nh":-3.435,"nl":-3.715,"n0":-3.74,"c":-4.69,"ch":-4.53,"cl":-4.85,"kh":-4.38,"kl":-4.99,"c0":-5.16,"rn":1.1,"rnh":1.41,"rnl":0.76,"rc":0.83,"rch":1.1,"rcl":0.6,"rkh":1.68,"rkl":0.43},
      {"x":57.54,"n":-3.565,"nh":-3.445,"nl":-3.725,"n0":-3.76,"c":-4.66,"ch":-4.5,"cl":-4.82,"kh":-4.35,"kl":-4.96,"c0":-5.13,"rn":1.1,"rnh":1.41,"rnl":0.76,"rc":0.83,"rch":1.1,"rcl":0.6,"rkh":1.68,"rkl":0.43},
      {"x":63.1,"n":-3.575,"nh":-3.455,"nl":-3.735,"n0":-3.78,"c":-4.63,"ch":-4.47,"cl":-4.79,"kh":-4.32,"kl":-4.93,"c0":-5.1,"rn":1.1,"rnh":1.4,"rnl":0.76,"rc":0.83,"rch":1.1,"rcl":0.6,"rkh":1.68,"rkl":0.43},
      {"x":69.18,"n":-3.59,"nh":-3.475,"nl":-3.73,"n0":-3.8,"c":-4.59,"ch":-4.43,"cl":-4.75,"kh":-4.28,"kl":-4.89,"c0":-5.07,"rn":1.1,"rnh":1.4,"rnl":0.78,"rc":0.84,"rch":1.1,"rcl":0.6,"rkh":1.68,"rkl":0.43},
      {"x":75.86,"n":-3.605,"nh":-3.49,"nl":-3.745,"n0":-3.82,"c":-4.56,"ch":-4.4,"cl":-4.72,"kh":-4.25,"kl":-4.86,"c0":-5.03,"rn":1.11,"rnh":1.4,"rnl":0.78,"rc":0.84,"rch":1.1,"rcl":0.6,"rkh":1.68,"rkl":0.43},
      {"x":83.18,"n":-3.625,"nh":-3.51,"nl":-3.765,"n0":-3.85,"c":-4.535,"ch":-4.375,"cl":-4.695,"kh":-4.225,"kl":-4.835,"c0":-4.99,"rn":1.11,"rnh":1.4,"rnl":0.78,"rc":0.84,"rch":1.1,"rcl":0.6,"rkh":1.69,"rkl":0.43},
      {"x":91.2,"n":-3.655,"nh":-3.54,"nl":-3.795,"n0":-3.89,"c":-4.51,"ch":-4.35,"cl":-4.67,"kh":-4.2,"kl":-4.81,"c0":-4.96,"rn":1.11,"rnh":1.39,"rnl":0.78,"rc":0.84,"rch":1.1,"rcl":0.6,"rkh":1.69,"rkl":0.43},
      {"x":100,"n":-3.685,"nh":-3.57,"nl":-3.825,"n0":-3.94,"c":-4.495,"ch":-4.335,"cl":-4.655,"kh":-4.185,"kl":-4.795,"c0":-4.93,"rn":1.11,"rnh":1.39,"rnl":0.78,"rc":0.84,"rch":1.1,"rcl":0.6,"rkh":1.7,"rkl":0.44},
      {"x":104.7,"n":-3.715,"nh":-3.6,"nl":-3.855,"n0":-3.97,"c":-4.485,"ch":-4.325,"cl":-4.645,"kh":-4.175,"kl":-4.785,"c0":-4.91,"rn":1.12,"rnh":1.39,"rnl":0.78,"rc":0.84,"rch":1.11,"rcl":0.6,"rkh":1.7,"rkl":0.44},
      {"x":109.6,"n":-3.75,"nh":-3.635,"nl":-3.89,"n0":-4.0,"c":-4.475,"ch":-4.315,"cl":-4.635,"kh":-4.165,"kl":-4.775,"c0":-4.89,"rn":1.12,"rnh":1.38,"rnl":0.78,"rc":0.84,"rch":1.11,"rcl":0.6,"rkh":1.71,"rkl":0.44},
      {"x":114.8,"n":-3.785,"nh":-3.67,"nl":-3.925,"n0":-4.03,"c":-4.47,"ch":-4.31,"cl":-4.63,"kh":-4.16,"kl":-4.77,"c0":-4.87,"rn":1.12,"rnh":1.38,"rnl":0.78,"rc":0.84,"rch":1.11,"rcl":0.6,"rkh":1.71,"rkl":0.44},
      {"x":120.2,"n":-3.825,"nh":-3.71,"nl":-3.965,"n0":-4.06,"c":-4.465,"ch":-4.305,"cl":-4.625,"kh":-4.155,"kl":-4.765,"c0":-4.85,"rn":1.12,"rnh":1.38,"rnl":0.78,"rc":0.84,"rch":1.11,"rcl":0.6,"rkh":1.72,"rkl":0.44},
      {"x":125.9,"n":-3.865,"nh":-3.75,"nl":-4.005,"n0":-4.1,"c":-4.465,"ch":-4.305,"cl":-4.625,"kh":-4.155,"kl":-4.765,"c0":-4.84,"rn":1.12,"rnh":1.37,"rnl":0.78,"rc":0.84,"rch":1.11,"rcl":0.6,"rkh":1.72,"rkl":0.44},
      {"x":131.8,"n":-3.91,"nh":-3.8,"nl":-4.03,"n0":-4.14,"c":-4.475,"ch":-4.315,"cl":-4.635,"kh":-4.165,"kl":-4.775,"c0":-4.835,"rn":1.13,"rnh":1.37,"rnl":0.78,"rc":0.85,"rch":1.12,"rcl":0.61,"rkh":1.73,"rkl":0.44},
      {"x":138,"n":-3.955,"nh":-3.845,"nl":-4.075,"n0":-4.18,"c":-4.49,"ch":-4.33,"cl":-4.65,"kh":-4.18,"kl":-4.79,"c0":-4.84,"rn":1.13,"rnh":1.37,"rnl":0.78,"rc":0.85,"rch":1.12,"rcl":0.61,"rkh":1.73,"rkl":0.44},
      {"x":144.5,"n":-4.0,"nh":-3.89,"nl":-4.12,"n0":-4.22,"c":-4.515,"ch":-4.355,"cl":-4.675,"kh":-4.205,"kl":-4.815,"c0":-4.87,"rn":1.13,"rnh":1.36,"rnl":0.78,"rc":0.85,"rch":1.12,"rcl":0.61,"rkh":1.74,"rkl":0.44},
      {"x":151.4,"n":-4.05,"nh":-3.94,"nl":-4.17,"n0":-4.27,"c":-4.545,"ch":-4.385,"cl":-4.705,"kh":-4.235,"kl":-4.845,"c0":-4.93,"rn":1.13,"rnh":1.36,"rnl":0.78,"rc":0.85,"rch":1.14,"rcl":0.61,"rkh":1.74,"rkl":0.44},
      {"x":158.5,"n":-4.1,"nh":-3.99,"nl":-4.22,"n0":-4.33,"c":-4.585,"ch":-4.425,"cl":-4.745,"kh":-4.275,"kl":-4.885,"c0":-5.0,"rn":1.14,"rnh":1.36,"rnl":0.78,"rc":0.85,"rch":1.14,"rcl":0.61,"rkh":1.75,"rkl":0.44},
      {"x":166,"n":-4.15,"nh":-4.04,"nl":-4.27,"n0":-4.39,"c":-4.63,"ch":-4.47,"cl":-4.79,"kh":-4.32,"kl":-4.93,"c0":-5.08,"rn":1.14,"rnh":1.35,"rnl":0.78,"rc":0.86,"rch":1.16,"rcl":0.62,"rkh":1.76,"rkl":0.45},
      {"x":173.8,"n":-4.21,"nh":-4.1,"nl":-4.33,"n0":-4.46,"c":-4.68,"ch":-4.52,"cl":-4.84,"kh":-4.37,"kl":-4.98,"c0":-5.16,"rn":1.14,"rnh":1.35,"rnl":0.78,"rc":0.86,"rch":1.16,"rcl":0.62,"rkh":1.76,"rkl":0.45},
      {"x":182,"n":-4.26,"nh":-4.15,"nl":-4.38,"n0":-4.53,"c":-4.735,"ch":-4.575,"cl":-4.895,"kh":-4.425,"kl":-5.035,"c0":-5.24,"rn":1.15,"rnh":1.35,"rnl":0.78,"rc":0.86,"rch":1.18,"rcl":0.62,"rkh":1.77,"rkl":0.45},
      {"x":190.5,"n":-4.31,"nh":-4.2,"nl":-4.43,"n0":-4.6,"c":-4.79,"ch":-4.63,"cl":-4.95,"kh":-4.48,"kl":-5.09,"c0":-5.32,"rn":1.15,"rnh":1.35,"rnl":0.78,"rc":0.87,"rch":1.18,"rcl":0.62,"rkh":1.78,"rkl":0.45},
      {"x":199.5,"n":-4.37,"nh":-4.26,"nl":-4.49,"n0":-4.67,"c":-4.855,"ch":-4.695,"cl":-5.015,"kh":-4.545,"kl":-5.155,"c0":-5.42,"rn":1.15,"rnh":1.35,"rnl":0.78,"rc":0.87,"rch":1.2,"rcl":0.62,"rkh":1.78,"rkl":0.45},
      {"x":208.9,"n":-4.43,"nh":-4.33,"nl":-4.54,"n0":-4.74,"c":-4.92,"ch":-4.76,"cl":-5.08,"kh":-4.61,"kl":-5.22,"c0":-5.53,"rn":1.16,"rnh":1.36,"rnl":0.8,"rc":0.88,"rch":1.21,"rcl":0.63,"rkh":1.79,"rkl":0.46},
      {"x":218.8,"n":-4.485,"nh":-4.385,"nl":-4.595,"n0":-4.81,"c":-4.99,"ch":-4.83,"cl":-5.15,"kh":-4.68,"kl":-5.29,"c0":-5.64,"rn":1.16,"rnh":1.36,"rnl":0.8,"rc":0.89,"rch":1.23,"rcl":0.64,"rkh":1.8,"rkl":0.47},
      {"x":229.1,"n":-4.585,"nh":-4.47,"nl":-4.67,"n0":-4.88,"c":-5.07,"ch":-4.91,"cl":-5.23,"kh":-4.76,"kl":-5.37,"c0":-5.76,"rn":1.06,"rnh":1.3,"rnl":0.76,"rc":0.9,"rch":1.25,"rcl":0.65,"rkh":1.81,"rkl":0.47},
      {"x":239.9,"n":-4.605,"nh":-4.505,"nl":-4.715,"n0":-4.95,"c":-5.15,"ch":-4.99,"cl":-5.31,"kh":-4.84,"kl":-5.45,"c0":-5.88,"rn":1.16,"rnh":1.36,"rnl":0.8,"rc":0.91,"rch":1.27,"rcl":0.66,"rkh":1.82,"rkl":0.48},
      {"x":251.2,"n":-4.67,"nh":-4.57,"nl":-4.78,"n0":-5.02,"c":-5.235,"ch":-5.075,"cl":-5.395,"kh":-4.925,"kl":-5.535,"c0":-6.0,"rn":1.17,"rnh":1.37,"rnl":0.81,"rc":0.92,"rch":1.29,"rcl":0.66,"rkh":1.83,"rkl":0.49},
      {"x":263,"n":-4.735,"nh":-4.635,"nl":-4.845,"n0":-5.1,"c":-5.32,"ch":-5.16,"cl":-5.48,"kh":-5.01,"kl":-5.62,"c0":-6.13,"rn":1.18,"rnh":1.38,"rnl":0.82,"rc":0.93,"rch":1.32,"rcl":0.67,"rkh":1.84,"rkl":0.5},
      {"x":275.4,"n":-4.86,"nh":-4.74,"nl":-4.95,"n0":-5.17,"c":-5.41,"ch":-5.25,"cl":-5.57,"kh":-5.1,"kl":-5.71,"c0":-6.25,"rn":1.03,"rnh":1.3,"rnl":0.74,"rc":0.94,"rch":1.35,"rcl":0.67,"rkh":1.85,"rkl":0.51},
      {"x":288.4,"n":-4.95,"nh":-4.83,"nl":-5.04,"n0":-5.24,"c":-5.5,"ch":-5.34,"cl":-5.66,"kh":-5.19,"kl":-5.8,"c0":-6.37,"rn":0.99,"rnh":1.3,"rnl":0.72,"rc":0.97,"rch":1.4,"rcl":0.68,"rkh":1.87,"rkl":0.52},
      {"x":302,"n":-5.02,"nh":-4.9,"nl":-5.11,"n0":-5.31,"c":-5.6,"ch":-5.44,"cl":-5.76,"kh":-5.29,"kl":-5.9,"c0":-6.54,"rn":1.0,"rnh":1.32,"rnl":0.74,"rc":0.99,"rch":1.45,"rcl":0.7,"rkh":1.94,"rkl":0.53},
      {"x":316.2,"n":-5.03,"nh":-4.93,"nl":-5.14,"n0":-5.38,"c":-5.7,"ch":-5.54,"cl":-5.86,"kh":-5.39,"kl":-6.0,"c0":-6.65,"rn":1.16,"rnh":1.38,"rnl":0.84,"rc":1.04,"rch":1.5,"rcl":0.73,"rkh":2.01,"rkl":0.55},
      {"x":331.1,"n":-5.11,"nh":-5.01,"nl":-5.22,"n0":-5.45,"c":-5.81,"ch":-5.65,"cl":-5.97,"kh":-5.5,"kl":-6.11,"c0":-6.77,"rn":1.16,"rnh":1.38,"rnl":0.84,"rc":1.06,"rch":1.57,"rcl":0.75,"rkh":2.11,"rkl":0.57},
      {"x":346.7,"n":-5.19,"nh":-5.09,"nl":-5.3,"n0":-5.53,"c":-5.92,"ch":-5.76,"cl":-6.08,"kh":-5.61,"kl":-6.22,"c0":-6.95,"rn":1.2,"rnh":1.4,"rnl":0.86,"rc":1.1,"rch":1.63,"rcl":0.78,"rkh":2.22,"rkl":0.59},
      {"x":363.1,"n":-5.28,"nh":-5.18,"nl":-5.39,"n0":-5.63,"c":-6.03,"ch":-5.87,"cl":-6.19,"kh":-5.72,"kl":-6.33,"c0":-7.11,"rn":1.2,"rnh":1.4,"rnl":0.86,"rc":1.12,"rch":1.7,"rcl":0.82,"rkh":2.29,"rkl":0.61},
      {"x":380.2,"n":-5.37,"nh":-5.27,"nl":-5.48,"n0":-5.78,"c":-6.15,"ch":-5.99,"cl":-6.31,"kh":-5.84,"kl":-6.45,"c0":-7.275,"rn":1.2,"rnh":1.4,"rnl":0.86,"rc":1.2,"rch":1.8,"rcl":0.88,"rkh":2.47,"rkl":0.63},
      {"x":398.1,"n":-5.47,"nh":-5.37,"nl":-5.58,"n0":-5.91,"c":-6.27,"ch":-6.11,"cl":-6.43,"kh":-5.96,"kl":-6.57,"c0":-7.41,"rn":1.2,"rnh":1.42,"rnl":0.86,"rc":1.26,"rch":1.9,"rcl":0.95,"rkh":2.57,"rkl":0.66},
      {"x":416.9,"n":-5.57,"nh":-5.47,"nl":-5.68,"n0":-6.04,"c":-6.396,"ch":-6.236,"cl":-6.556,"kh":-6.086,"kl":-6.696,"c0":-7.6,"rn":1.16,"rnh":1.38,"rnl":0.83,"rc":1.34,"rch":2.0,"rcl":1.0,"rkh":2.71,"rkl":0.7},
      {"x":436.5,"n":-5.69,"nh":-5.59,"nl":-5.8,"n0":-6.11,"c":-6.513,"ch":-6.353,"cl":-6.673,"kh":-6.203,"kl":-6.813,"c0":-7.774,"rn":1.28,"rnh":1.45,"rnl":0.9,"rc":1.48,"rch":2.11,"rcl":1.08,"rkh":2.96,"rkl":0.74},
      {"x":457.1,"n":-5.84,"nh":-5.74,"nl":-5.96,"n0":-6.2,"c":-6.63,"ch":-6.47,"cl":-6.79,"kh":-6.32,"kl":-6.93,"c0":-7.906,"rn":1.2,"rnh":1.4,"rnl":0.86,"rc":1.61,"rch":2.22,"rcl":1.15,"rkh":3.19,"rkl":0.77},
      {"x":478.6,"n":-5.93,"nh":-5.82,"nl":-6.05,"n0":-6.29,"c":-6.748,"ch":-6.588,"cl":-6.908,"kh":-6.438,"kl":-7.048,"c0":-8.1,"rn":1.2,"rnh":1.4,"rnl":0.85,"rc":1.69,"rch":2.4,"rcl":1.2,"rkh":3.37,"rkl":0.81},
      {"x":501.2,"n":-6.044,"nh":-5.99,"nl":-6.13,"n0":-6.41,"c":-6.85,"ch":-6.69,"cl":-7.01,"kh":-6.54,"kl":-7.15,"c0":-8.27,"rn":1.13,"rnh":1.37,"rnl":0.8,"rc":1.89,"rch":2.64,"rcl":1.3,"rkh":3.81,"rkl":0.85},
      {"x":524.8,"n":-6.094,"nh":-5.99,"nl":-6.25,"n0":-6.54,"c":-6.98,"ch":-6.82,"cl":-7.14,"kh":-6.67,"kl":-7.28,"c0":-12,"rn":1.27,"rnh":1.59,"rnl":0.88,"rc":1.89,"rch":2.71,"rcl":1.32,"rkh":3.77,"rkl":0.9},
      {"x":549.5,"n":-6.211,"nh":-6.154,"nl":-6.265,"n0":-6.6,"c":-7.114,"ch":-6.954,"cl":-7.274,"kh":-6.804,"kl":-7.414,"c0":-12,"rn":1.2,"rnh":1.37,"rnl":1.06,"rc":2.01,"rch":2.89,"rcl":1.36,"rkh":4.02,"rkl":0.98},
      {"x":575.4,"n":-6.413,"nh":-6.25,"nl":-6.56,"n0":-7.0,"c":-7.246,"ch":-7.085,"cl":-7.378,"kh":-6.953,"kl":-7.54,"c0":-12,"rn":0.95,"rnh":1.37,"rnl":0.67,"rc":2.2,"rch":3.23,"rcl":1.62,"rkh":4.41,"rkl":1.13},
      {"x":602.6,"n":-6.63,"nh":-6.35,"nl":-6.81,"n0":-12,"c":-7.34,"ch":-7.217,"cl":-7.495,"kh":-7.04,"kl":-7.64,"c0":-12,"rn":0.74,"rnh":1.41,"rnl":0.49,"rc":2.78,"rch":3.72,"rcl":1.94,"rkh":5.57,"rkl":1.41},
      {"x":631,"n":-6.551,"nh":-6.474,"nl":-6.82,"n0":-6.95,"c":-7.48,"ch":-7.32,"cl":-7.607,"kh":-7.187,"kl":-7.79,"c0":-12,"rn":1.18,"rnh":1.41,"rnl":0.63,"rc":2.87,"rch":4.19,"rcl":2.11,"rkh":5.78,"rkl":1.54},
      {"x":660.7,"n":-6.686,"nh":-6.61,"nl":-7.05,"n0":-7.13,"c":-7.59,"ch":-7.437,"cl":-7.76,"kh":-7.28,"kl":-7.89,"c0":-12,"rn":1.13,"rnh":1.34,"rnl":0.49,"rc":3.09,"rch":4.28,"rcl":2.08,"rkh":7,"rkl":1.56},
      {"x":691.8,"n":-6.903,"nh":-6.405,"nl":-6.91,"n0":-7.466,"c":-7.735,"ch":-7.6,"cl":-7.906,"kh":-7.437,"kl":-8.05,"c0":-12,"rn":0.88,"rnh":2.81,"rnl":0.88,"rc":3.23,"rch":4.48,"rcl":2.19,"rkh":7,"rkl":1.7},
      {"x":724.4,"n":-6.836,"nh":-6.82,"nl":-7.17,"n0":-7.11,"c":-7.847,"ch":-7.715,"cl":-8.05,"kh":-7.54,"kl":-8.14,"c0":-12,"rn":1.35,"rnh":1.36,"rnl":0.63,"rc":3.78,"rch":5.18,"rcl":2.4,"rkh":7,"rkl":1.88},
      {"x":758.6,"n":-6.95,"nh":-6.91,"nl":-7.45,"n0":-7.357,"c":-8.038,"ch":-7.862,"cl":-8.17,"kh":-7.744,"kl":-8.345,"c0":-12,"rn":1.23,"rnh":1.34,"rnl":0.39,"rc":3.47,"rch":5.2,"rcl":2.61,"rkh":7,"rkl":1.78},
      {"x":794.3,"n":-7.003,"nh":-6.96,"nl":-7.6,"n0":-7.36,"c":-8.17,"ch":-7.99,"cl":-8.26,"kh":-7.87,"kl":-8.4,"c0":-12,"rn":1.55,"rnh":1.55,"rnl":0.14,"rc":4.3,"rch":5.99,"rcl":3.1,"rkh":7,"rkl":2.15},
      {"x":800,"n":-7.003,"nh":-6.96,"nl":-7.6,"n0":-7.36,"c":-8.17,"ch":-7.99,"cl":-8.26,"kh":-7.87,"kl":-8.4,"c0":-12,"rn":1.55,"rnh":1.55,"rnl":0.14,"rc":4.3,"rch":5.99,"rcl":3.1,"rkh":7,"rkl":2.15}
    ]
  },
  "config": {
    "font": "Liberation Serif",
    "view": {"stroke": "#000000", "strokeWidth": 2},
    "axis": {
      "grid": false, "domain": false, "tickColor": "#000000", "tickWidth": 1.5, "tickSize": -8,
      "labelFont": "Liberation Serif", "labelFontSize": 28, "labelColor": "#000000",
      "titleFont": "Liberation Serif", "titleFontSize": 28, "titleFontWeight": "normal", "titleColor": "#000000",
      "labelFlush": false, "labelOverlap": false
    },
    "legend": {
      "orient": "none", "legendX": 436, "legendY": 31, "title": null, "padding": 0,
      "labelFont": "Liberation Serif", "labelFontSize": 26, "labelColor": "#111111", "labelLimit": 600,
      "labelOffset": 15, "rowPadding": 13, "clipHeight": 26, "symbolSize": 2809, "symbolStrokeWidth": 2.5, "symbolOpacity": 1
    }
  },
  "spacing": 0,
  "resolve": {"scale": {"x": "independent", "y": "independent"}},
  "vconcat": [
    {
      "width": 918, "height": 569,
      "data": {"name": "h"},
      "resolve": {"axis": {"x": "independent", "y": "independent"}},
      "layer": [
        {
          "mark": {"type": "area", "interpolate": "step-after", "clip": true,
                   "fill": {"expr": "{gradient: 'linear', x1: 0, y1: 1, x2: 1.19683, y2: 0.37984, stops: gs}"},
                   "fillOpacity": 0.65, "stroke": "#707070", "strokeWidth": 1.5},
          "encoding": {
            "x": {"field": "x", "type": "quantitative", "scale": {"domain": [10, 800], "nice": false, "zero": false},
                  "axis": {"orient": "bottom", "values": [100, 200, 300, 400, 500, 600, 700, 800], "labels": false, "title": null}},
            "y": {"field": "nl", "type": "quantitative", "scale": {"domain": [-8.4, -3.4], "nice": false, "zero": false},
                  "axis": {"orient": "left", "values": [-8, -7, -6, -5, -4], "labelPadding": 21,
                           "labelExpr": "datum.value == -8 ? '10⁻⁸' : datum.value == -7 ? '10⁻⁷' : datum.value == -6 ? '10⁻⁶' : datum.value == -5 ? '10⁻⁵' : '10⁻⁴'",
                           "title": "dσ / dEₜᵐⁱˢˢ [pb/GeV]", "titleX": -108, "titleBaseline": "middle"}},
            "y2": {"field": "nh"}
          }
        },
        {
          "mark": {"type": "line", "interpolate": "step-after", "clip": true, "color": "#000000", "strokeWidth": 2.5, "strokeDash": [12, 8]},
          "encoding": {
            "x": {"field": "x", "type": "quantitative", "axis": {"orient": "top", "values": [100, 200, 300, 400, 500, 600, 700, 800], "labels": false, "title": null}},
            "y": {"field": "n0", "type": "quantitative", "axis": {"orient": "right", "values": [-8, -7, -6, -5, -4], "labels": false, "title": null}}
          }
        },
        {
          "mark": {"type": "line", "interpolate": "step-after", "clip": true, "color": "#ff0000", "strokeWidth": 2.5, "strokeDash": [12, 8]},
          "encoding": {
            "x": {"field": "x", "type": "quantitative", "axis": null},
            "y": {"field": "c0", "type": "quantitative", "axis": null}
          }
        },
        {
          "mark": {"type": "area", "interpolate": "step-after", "clip": true,
                   "fill": {"expr": "{gradient: 'linear', x1: 0, y1: 0, x2: 1.19525, y2: 0.62898, stops: bs}"},
                   "stroke": "#606060", "strokeWidth": 1.8},
          "encoding": {
            "x": {"field": "x", "type": "quantitative", "axis": null},
            "y": {"field": "kl", "type": "quantitative", "axis": null},
            "y2": {"field": "kh"}
          }
        },
        {
          "mark": {"type": "area", "interpolate": "step-after", "clip": true,
                   "fill": {"expr": "{gradient: 'linear', x1: 0, y1: 0, x2: 1.20148, y2: 0.58905, stops: ps}"},
                   "stroke": "#000000", "strokeWidth": 2},
          "encoding": {
            "x": {"field": "x", "type": "quantitative", "axis": null},
            "y": {"field": "cl", "type": "quantitative", "axis": null},
            "y2": {"field": "ch"}
          }
        },
        {
          "mark": {"type": "line", "interpolate": "step-after", "clip": true, "color": "#c8175f", "strokeWidth": 2.5},
          "encoding": {
            "x": {"field": "x", "type": "quantitative", "axis": null},
            "y": {"field": "c", "type": "quantitative", "axis": null}
          }
        },
        {
          "mark": {"type": "line", "interpolate": "step-after", "clip": true, "color": "#000000", "strokeWidth": 2.5},
          "encoding": {
            "x": {"field": "x", "type": "quantitative", "axis": null},
            "y": {"field": "n", "type": "quantitative", "axis": null}
          }
        },
        {
          "data": {"values": [{}]},
          "mark": {"type": "text", "text": "Sherpa+OpenLoops", "font": "Liberation Serif", "fontSize": 31, "color": "#8c8c8c", "align": "center", "baseline": "middle"},
          "encoding": {
            "x": {"datum": 197, "type": "quantitative", "axis": null},
            "y": {"datum": -7.76, "type": "quantitative", "axis": null}
          }
        },
        {
          "data": {"values": [{"k": "a"}, {"k": "b"}, {"k": "c"}, {"k": "d"}, {"k": "e"}]},
          "mark": {"type": "point", "size": 0, "opacity": 1, "filled": true},
          "encoding": {
            "x": {"datum": 400, "type": "quantitative", "axis": null},
            "y": {"datum": -6, "type": "quantitative", "axis": null},
            "fill": {"field": "k", "type": "nominal",
              "scale": {"domain": ["a", "b", "c", "d", "e"], "range": ["#e2e2e2", "transparent", "#ffb6c1", "#cde7f0", "transparent"]},
              "legend": {"labelExpr": "datum.value === 'a' ? 'MEPS@NLO [scale variations]' : datum.value === 'b' ? '0-jet exclusive' : datum.value === 'c' ? 'MEPS@Loop² [scale variations]' : datum.value === 'd' ? 'MEPS@Loop² [k-factor variations]' : '0-jet exclusive'"}},
            "stroke": {"field": "k", "type": "nominal",
              "scale": {"domain": ["a", "b", "c", "d", "e"], "range": ["#707070", "#000000", "#000000", "#606060", "#ff0000"]},
              "legend": {"labelExpr": "datum.value === 'a' ? 'MEPS@NLO [scale variations]' : datum.value === 'b' ? '0-jet exclusive' : datum.value === 'c' ? 'MEPS@Loop² [scale variations]' : datum.value === 'd' ? 'MEPS@Loop² [k-factor variations]' : '0-jet exclusive'"}},
            "shape": {"field": "k", "type": "nominal",
              "scale": {"domain": ["a", "b", "c", "d", "e"], "range": ["M-1,-0.36H1V0.36H-1Z", "M-0.68,0H0.68", "M-1,-0.36H1V0.36H-1Z", "M-1,-0.36H1V0.36H-1Z", "M-0.68,0H0.68"]},
              "legend": {"labelExpr": "datum.value === 'a' ? 'MEPS@NLO [scale variations]' : datum.value === 'b' ? '0-jet exclusive' : datum.value === 'c' ? 'MEPS@Loop² [scale variations]' : datum.value === 'd' ? 'MEPS@Loop² [k-factor variations]' : '0-jet exclusive'"}},
            "strokeDash": {"field": "k", "type": "nominal",
              "scale": {"domain": ["a", "b", "c", "d", "e"], "range": [[1, 0], [12, 12], [1, 0], [1, 0], [12, 12]]},
              "legend": {"labelExpr": "datum.value === 'a' ? 'MEPS@NLO [scale variations]' : datum.value === 'b' ? '0-jet exclusive' : datum.value === 'c' ? 'MEPS@Loop² [scale variations]' : datum.value === 'd' ? 'MEPS@Loop² [k-factor variations]' : '0-jet exclusive'"}}
          }
        }
      ]
    },
    {
      "width": 918, "height": 284,
      "data": {"name": "h"},
      "resolve": {"axis": {"x": "independent", "y": "independent"}},
      "layer": [
        {
          "mark": {"type": "area", "interpolate": "step-after", "clip": true,
                   "fill": {"expr": "{gradient: 'linear', x1: 0, y1: 0, x2: 1.20094, y2: 0.40682, stops: bs}"},
                   "stroke": "#606060", "strokeWidth": 1.8},
          "encoding": {
            "x": {"field": "x", "type": "quantitative", "scale": {"domain": [10, 800], "nice": false, "zero": false},
                  "axis": {"orient": "bottom", "values": [100, 200, 300, 400, 500, 600, 700, 800], "labelPadding": 14,
                           "title": "Eₜᵐⁱˢˢ [GeV]", "titleX": 897, "titleY": 70, "titleAlign": "right", "titleBaseline": "alphabetic"}},
            "y": {"field": "rkl", "type": "quantitative", "scale": {"domain": [0, 6], "nice": false, "zero": false},
                  "axis": {"orient": "left", "values": [0, 1, 2, 3, 4, 5], "labelPadding": 24,
                           "title": "Ratio to (N)LO+PS", "titleX": -58, "titleBaseline": "middle"}},
            "y2": {"field": "rkh"}
          }
        },
        {
          "mark": {"type": "area", "interpolate": "step-after", "clip": true,
                   "fill": {"expr": "{gradient: 'linear', x1: 0, y1: 0, x2: 1.18662, y2: 0.33101, stops: ps}"},
                   "stroke": "#000000", "strokeWidth": 2},
          "encoding": {
            "x": {"field": "x", "type": "quantitative", "axis": {"orient": "top", "values": [100, 200, 300, 400, 500, 600, 700, 800], "labels": false, "title": null}},
            "y": {"field": "rcl", "type": "quantitative", "axis": {"orient": "right", "values": [0, 1, 2, 3, 4, 5], "labels": false, "title": null}},
            "y2": {"field": "rch"}
          }
        },
        {
          "mark": {"type": "line", "interpolate": "step-after", "clip": true, "color": "#c8175f", "strokeWidth": 2.5},
          "encoding": {
            "x": {"field": "x", "type": "quantitative", "axis": null},
            "y": {"field": "rc", "type": "quantitative", "axis": null}
          }
        },
        {
          "mark": {"type": "area", "interpolate": "step-after", "clip": true,
                   "fill": {"expr": "{gradient: 'linear', x1: 0, y1: 1, x2: 1.11651, y2: 0.84629, stops: gs}"},
                   "fillOpacity": 0.6, "stroke": "#707070", "strokeWidth": 1.5},
          "encoding": {
            "x": {"field": "x", "type": "quantitative", "axis": null},
            "y": {"field": "rnl", "type": "quantitative", "axis": null},
            "y2": {"field": "rnh"}
          }
        },
        {
          "mark": {"type": "line", "interpolate": "step-after", "clip": true, "color": "#000000", "strokeWidth": 2.5},
          "encoding": {
            "x": {"field": "x", "type": "quantitative", "axis": null},
            "y": {"field": "rn", "type": "quantitative", "axis": null}
          }
        }
      ]
    }
  ]
}
